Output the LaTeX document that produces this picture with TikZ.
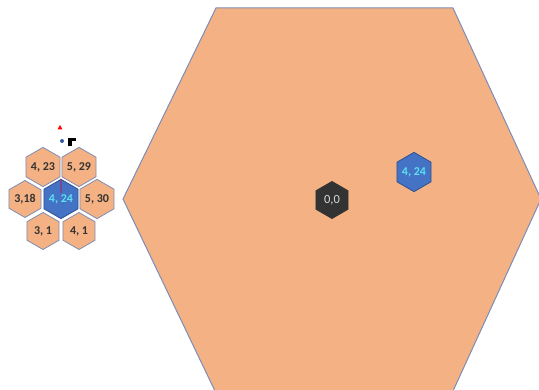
\documentclass[tikz,border=0pt]{standalone}
\usepackage{fontspec}
\setmainfont{Carlito}
\usetikzlibrary{shapes.geometric}
\definecolor{hexorange}{HTML}{F4B183}
\definecolor{hexedge}{HTML}{7D8DB5}
\definecolor{hexblue}{HTML}{4472C4}
\definecolor{bluedge}{HTML}{2F528F}
\definecolor{hexcyan}{HTML}{5CE1F0}
\definecolor{hexdark}{HTML}{333333}

\begin{document}
\begin{tikzpicture}[x=1pt,y=-1pt,
  hexcell/.style={regular polygon, regular polygon sides=6, regular polygon rotate=30,
    minimum size=37pt, inner sep=0pt, fill=hexorange, draw=hexedge, line width=0.8pt,
    text=black!80, font=\fontsize{12}{14}\selectfont\bfseries},
  bluecell/.style={hexcell, fill=hexblue, draw=bluedge, text=hexcyan},
  darkcell/.style={hexcell, fill=hexdark, draw=hexdark, text=white!85!black,
    font=\fontsize{12.5}{14}\selectfont}]
  \useasboundingbox (0,0) rectangle (539,390);
  \clip (0,0) rectangle (539,390);
  % big cell
  \draw[fill=hexorange, draw=hexedge, line width=1pt]
    (216,8) -- (453,8) -- (541,199) -- (453,391) -- (215,391) -- (123,199) -- cycle;
  % cells inside the big one
  \node[darkcell] (origin) at (332,200) {0,0};
  \node[bluecell] (far) at (414,172) {4, 24};
  % cluster of neighbours
  \node[bluecell] (mid) at (61,199) {4, 24};
  \node[hexcell] (nw) at (43,167) {4, 23};
  \node[hexcell] (ne) at (79,167) {5, 29};
  \node[hexcell] (w) at (25,199) {3,18};
  \node[hexcell] (e) at (97,199) {5, 30};
  \node[hexcell] (sw) at (43,231) {3, 1};
  \node[hexcell] (se) at (79,231) {4, 1};
  \draw[purple!70!red, line width=0.6pt] (mid.north) -- ([yshift=6pt]mid.center);
  % markers
  \fill[red] (57.5,129.5) -- (60,125) -- (62.5,129.5) -- cycle;
  \fill[hexblue!80!black] (62,141) circle (2);
  \fill[black] (68,138) rectangle (76,141);
  \fill[black] (68,138) rectangle (71.5,146);
\end{tikzpicture}
\end{document}
